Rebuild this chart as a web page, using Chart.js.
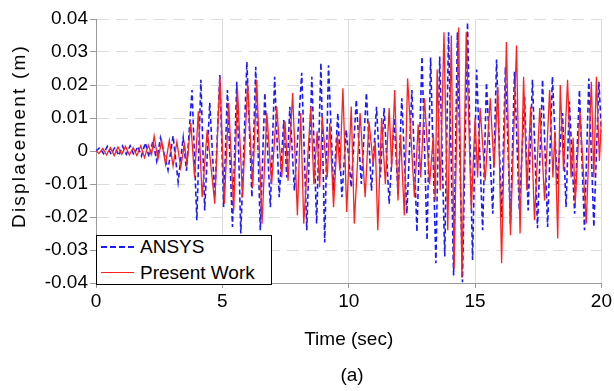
<!DOCTYPE html>
<html>
<head>
<meta charset="utf-8">
<script src="https://cdn.jsdelivr.net/npm/chart.js@4.4.1/dist/chart.umd.min.js"></script>
<style>
  html, body { margin: 0; padding: 0; background: #fff; }
  #wrap { position: relative; width: 614px; height: 391px; font-family: "Liberation Sans", Arial, sans-serif; color: #000; }
  #plot { position: absolute; left: 0; top: 0; }
  #legend {
    position: absolute; left: 96px; top: 235px; width: 174px; height: 48px;
    border: 1px solid #000; background: #fff; font-size: 19px;
  }
  .row { position: absolute; left: 0; height: 22px; line-height: 22px; white-space: nowrap; }
  .swatch { position: absolute; left: 4px; top: 10px; width: 33px; height: 0; }
  .row span { position: absolute; left: 43px; top: 0; }
  #ytitle {
    position: absolute; left: 19px; top: 136px; white-space: nowrap;
    font-size: 19px; line-height: 22px; letter-spacing: 2.2px;
    transform: translate(-50%, -50%) rotate(-90deg);
  }
  #caption { position: absolute; left: 0; width: 614px; top: 364px; text-align: center; font-size: 19px; line-height: 22px; padding-left: 90px; box-sizing: border-box; }
</style>
</head>
<body>
<div id="wrap">
  <canvas id="plot" width="614" height="391"></canvas>
  <div id="ytitle">Displacement (m)</div>
  <div id="legend">
    <div class="row" style="top:0px"><div class="swatch" style="border-top:2px dashed #1a1aff"></div><span>ANSYS</span></div>
    <div class="row" style="top:26px"><div class="swatch" style="border-top:1.5px solid #ff2020"></div><span>Present Work</span></div>
  </div>
  <div id="caption">(a)</div>
</div>
<script>
// Axis ticks
const X_TICKS = [0, 5, 10, 15, 20];
const Y_TICKS = [-0.04, -0.03, -0.02, -0.01, 0, 0.01, 0.02, 0.03, 0.04];

// ANSYS response: time (s) and displacement (m) at turning points
const ansysTime = [
  0.00, 0.15, 0.30, 0.45, 0.60, 0.75, 0.90, 1.05, 1.20, 1.35, 1.50, 1.65, 1.80, 1.95, 2.10, 2.25,
  2.40, 2.55, 2.85, 3.05, 3.25, 3.45, 3.58, 3.80, 3.99, 4.15, 4.30, 4.50, 4.70, 4.90, 5.05, 5.20,
  5.40, 5.57, 5.73, 5.97, 6.17, 6.32, 6.50, 6.68, 6.90, 7.07, 7.25, 7.43, 7.55, 7.67, 7.85, 8.14,
  8.34, 8.54, 8.73, 8.90, 9.05, 9.20, 9.40, 9.57, 9.73, 9.90, 10.10, 10.30, 10.50, 10.70, 10.90, 11.10,
  11.25, 11.40, 11.60, 11.80, 11.95, 12.10, 12.30, 12.50, 12.70, 12.90, 13.10, 13.24, 13.45, 13.60, 13.80, 13.95,
  14.15, 14.30, 14.50, 14.70, 14.90, 15.06, 15.30, 15.45, 15.70, 15.85, 16.05, 16.20, 16.40, 16.56, 16.75, 16.96,
  17.10, 17.27, 17.47, 17.67, 17.87, 18.06, 18.25, 18.46, 18.60, 18.73, 18.94, 19.13, 19.33, 19.50, 19.70, 19.90,
  20.00
];
const ansysDisp = [
  0.0000, 0.0010, -0.0008, 0.0014, -0.0010, 0.0012, -0.0014, 0.0015, -0.0010, 0.0016, -0.0012, 0.0014, -0.0015, 0.0025, -0.0018, 0.0030,
  -0.0030, 0.0040, -0.0058, 0.0046, -0.0094, 0.0040, -0.0060, 0.0185, -0.0210, 0.0216, -0.0180, 0.0146, -0.0140, 0.0230, -0.0170, 0.0185,
  -0.0230, 0.0210, -0.0250, 0.0270, -0.0140, 0.0255, -0.0240, 0.0176, -0.0170, 0.0225, -0.0140, 0.0094, -0.0080, 0.0134, -0.0120, 0.0237,
  -0.0240, 0.0225, -0.0220, 0.0267, -0.0277, 0.0260, -0.0120, 0.0115, -0.0140, 0.0064, -0.0110, 0.0155, -0.0100, 0.0176, -0.0120, 0.0134,
  -0.0080, 0.0130, -0.0160, 0.0100, -0.0130, 0.0160, -0.0190, 0.0185, -0.0245, 0.0286, -0.0270, 0.0283, -0.0340, 0.0286, -0.0320, 0.0360,
  -0.0377, 0.0360, -0.0398, 0.0390, -0.0330, 0.0247, -0.0240, 0.0207, -0.0190, 0.0277, -0.0200, 0.0255, -0.0220, 0.0240, -0.0180, 0.0164,
  -0.0180, 0.0216, -0.0234, 0.0216, -0.0230, 0.0225, -0.0100, 0.0115, -0.0170, 0.0150, -0.0190, 0.0185, -0.0240, 0.0220, -0.0230, 0.0210,
  0.0055
];

// Present work response
const presentTime = [
  0.00, 0.12, 0.27, 0.42, 0.57, 0.72, 0.87, 1.02, 1.17, 1.32, 1.47, 1.62, 1.77, 1.92, 2.07, 2.20,
  2.30, 2.45, 2.60, 2.75, 2.90, 3.05, 3.20, 3.35, 3.50, 3.60, 3.75, 3.90, 4.05, 4.20, 4.40, 4.70,
  4.90, 5.08, 5.25, 5.45, 5.60, 5.80, 6.00, 6.20, 6.36, 6.57, 6.76, 6.95, 7.15, 7.35, 7.48, 7.60,
  7.78, 7.97, 8.10, 8.22, 8.50, 8.62, 8.75, 8.85, 8.95, 9.15, 9.25, 9.40, 9.55, 9.65, 9.77, 9.92,
  10.10, 10.22, 10.45, 10.65, 10.80, 10.97, 11.05, 11.15, 11.30, 11.45, 11.60, 11.70, 11.82, 11.95, 12.05, 12.20,
  12.33, 12.60, 12.75, 12.85, 13.00, 13.20, 13.35, 13.42, 13.50, 13.62, 13.77, 13.92, 14.06, 14.17, 14.35, 14.48,
  14.65, 14.85, 15.00, 15.10, 15.20, 15.40, 15.60, 15.75, 15.90, 16.05, 16.24, 16.40, 16.64, 16.78, 16.92, 17.05,
  17.20, 17.35, 17.56, 17.75, 17.95, 18.08, 18.16, 18.27, 18.37, 18.50, 18.66, 18.80, 18.88, 18.96, 19.15, 19.40,
  19.60, 19.70, 19.80, 19.92, 20.00
];
const presentDisp = [
  0.0000, -0.0008, 0.0008, -0.0012, 0.0010, -0.0014, 0.0012, -0.0010, 0.0014, -0.0012, 0.0010, -0.0014, 0.0016, -0.0020, 0.0018, -0.0010,
  0.0045, -0.0025, 0.0030, -0.0040, 0.0032, -0.0045, 0.0028, -0.0050, 0.0020, -0.0040, 0.0085, -0.0080, 0.0120, -0.0140, 0.0064, -0.0160,
  0.0225, -0.0160, 0.0146, -0.0180, 0.0185, -0.0140, 0.0207, -0.0110, 0.0216, -0.0220, 0.0115, -0.0100, 0.0134, -0.0080, 0.0090, -0.0090,
  0.0176, -0.0195, 0.0115, -0.0220, 0.0134, -0.0100, 0.0060, -0.0110, 0.0103, -0.0080, 0.0085, -0.0170, 0.0050, -0.0060, 0.0190, -0.0185,
  0.0135, -0.0220, 0.0115, -0.0140, 0.0090, -0.0040, 0.0030, -0.0240, 0.0100, -0.0100, 0.0130, -0.0050, 0.0185, -0.0150, 0.0050, -0.0195,
  0.0220, -0.0140, 0.0080, -0.0080, 0.0160, -0.0100, 0.0050, -0.0150, 0.0247, -0.0120, 0.0360, -0.0240, 0.0350, -0.0356, 0.0374, -0.0383,
  0.0360, -0.0180, 0.0100, -0.0080, 0.0130, -0.0090, 0.0160, -0.0050, 0.0195, -0.0340, 0.0330, -0.0255, 0.0320, -0.0250, 0.0225, -0.0120,
  0.0134, -0.0210, 0.0130, -0.0150, 0.0185, -0.0080, 0.0060, -0.0265, 0.0200, -0.0060, 0.0216, -0.0080, 0.0040, -0.0160, 0.0120, -0.0220,
  0.0210, -0.0080, 0.0225, -0.0030, 0.0094
];

const toPoints = (xs, ys) => xs.map((x, i) => ({ x, y: ys[i] }));

const FONT = { family: '"Liberation Sans", Arial, sans-serif', size: 19 };
const AXIS_GREY = "#9a9a9a";
const GRID_GREY = "#dcdcdc";

new Chart(document.getElementById("plot"), {
  type: "line",
  data: {
    datasets: [
      {
        label: "ANSYS",
        data: toPoints(ansysTime, ansysDisp),
        borderColor: "#1a1aff",
        borderWidth: 1.6,
        borderDash: [5, 3],
        pointRadius: 0,
        tension: 0,
        order: 2,
      },
      {
        label: "Present Work",
        data: toPoints(presentTime, presentDisp),
        borderColor: "#ff2020",
        borderWidth: 1.3,
        pointRadius: 0,
        tension: 0,
        order: 1,
      },
    ],
  },
  options: {
    responsive: false,
    animation: false,
    layout: { padding: { left: 0, right: 12, top: 19, bottom: 0 } },
    plugins: {
      legend: { display: false },
      tooltip: { enabled: false },
    },
    scales: {
      x: {
        type: "linear",
        min: 0,
        max: 20,
        afterBuildTicks: (scale) => { scale.ticks = X_TICKS.map((v) => ({ value: v })); },
        afterFit: (scale) => { scale.height = 108; },
        ticks: { color: "#000", font: FONT, padding: 2, maxRotation: 0 },
        grid: { color: (c) => (c.tick && c.tick.value === 0 ? "rgba(0,0,0,0)" : GRID_GREY), tickColor: AXIS_GREY, tickLength: 5 },
        border: { color: AXIS_GREY, width: 1 },
        title: {
          display: true,
          text: "Time (sec)",
          color: "#000",
          font: FONT,
          padding: { top: 0, bottom: 40 },
        },
      },
      y: {
        min: -0.04,
        max: 0.04,
        afterBuildTicks: (scale) => { scale.ticks = Y_TICKS.map((v) => ({ value: v })); },
        afterFit: (scale) => { scale.width = 96; },
        ticks: {
          color: "#000",
          font: FONT,
          padding: 2,
          callback: (v) => (Math.abs(v) < 1e-9 ? "0" : v.toFixed(2)),
        },
        grid: { color: GRID_GREY, tickColor: AXIS_GREY, tickLength: 6 },
        border: { color: AXIS_GREY, width: 1, dash: [12, 7] },
      },
    },
  },
});
</script>
</body>
</html>
